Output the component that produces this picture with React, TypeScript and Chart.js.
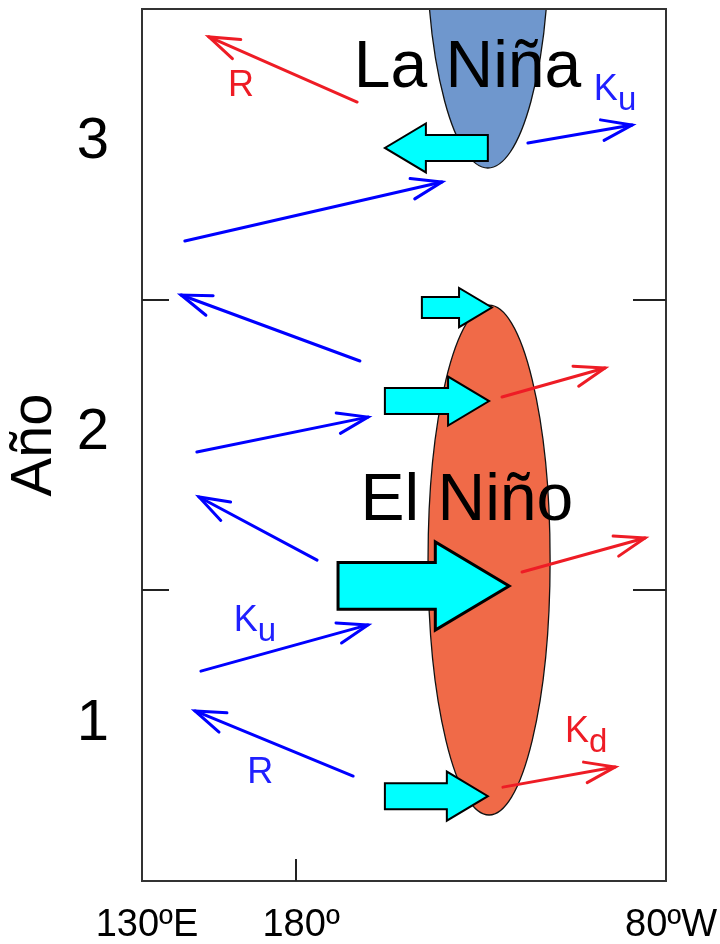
import React, { useEffect, useRef } from 'react';
import { Chart, registerables } from 'chart.js';

Chart.register(...registerables);

const FONT = '"Liberation Sans", Arial, Helvetica, sans-serif';

// ---------- axes ----------
const yLabelValues = [1, 2, 3];
const yTickMarkValues = [1.5, 2.5];
const xLabelValues = [130, 180, 300];
const xLabelTexts = ['130ºE', '180º', '80ºW'];
const xTickMarkValues = [180];

// ---------- thin wave arrows (tail -> tip), lon in degrees east, time in years ----------
const waveFromLon = [199.8, 255.2, 143.9, 200.7, 147.8, 186.8, 149.1, 198.5, 246.8, 253.3, 247.1];
const waveFromYear = [3.18, 3.039, 2.702, 2.289, 1.976, 1.604, 1.222, 0.861, 2.165, 1.563, 0.823];
const waveToLon = [151.7, 289.0, 227.3, 142.7, 203.3, 148.5, 203.3, 147.2, 280.2, 293.2, 283.5];
const waveToYear = [3.404, 3.101, 2.905, 2.516, 2.096, 1.821, 1.381, 1.085, 2.265, 1.68, 0.892];
const waveIsRed = [true, false, false, false, false, false, false, false, true, true, true];

// ---------- block (wind stress) arrows ----------
const windFromLon = [242.2, 220.8, 208.8, 193.6, 208.8];
const windToLon = [208.8, 243.5, 242.6, 249.1, 242.2];
const windYear = [3.022, 2.473, 2.151, 1.515, 0.792];
const windStrength = [1, 0.8, 1, 1.8, 1];

// ---------- ENSO phases (ellipses) ----------
const phaseCenterLon = [242.2, 242.6];
const phaseCenterYear = [3.737, 1.604];
const phaseHalfLon = [19.8, 19.8];
const phaseHalfYear = [0.784, 0.877];

// ---------- text notes ----------
const noteText = ['La Niña', 'El Niño', 'R', 'K', 'K', 'K', 'R'];
const noteSub = ['', '', '', 'u', 'u', 'd', ''];
const noteLon = [235.6, 235.4, 162.1, 276.6, 159.8, 267.2, 168.4];
const noteYear = [3.232, 1.742, 3.201, 3.187, 1.36, 0.978, 0.837];

// ---------- styles ----------
const RED = '#ee1c25';
const BLUE = '#0000ff';
const phaseFill = ['#6f97cd', '#f06a48'];
const noteColor = ['#000', '#000', RED, '#2020ff', '#2020ff', RED, '#2020ff'];
const noteSize = [66, 66, 36, 36, 36, 36, 36];
const noteAlign: CanvasTextAlign[] = ['center', 'center', 'center', 'left', 'left', 'left', 'center'];

const diagramPlugin = {
  id: 'diagram',
  beforeDatasetsDraw(chart: any) {
    const { ctx, chartArea: ca, scales } = chart;
    const x = scales.x;
    const y = scales.y;
    ctx.save();
    ctx.beginPath();
    ctx.rect(ca.left, ca.top, ca.right - ca.left, ca.bottom - ca.top);
    ctx.clip();
    // ellipses
    phaseCenterLon.forEach((lon, i) => {
      const cx = x.getPixelForValue(lon);
      const cy = y.getPixelForValue(phaseCenterYear[i]);
      const rx = Math.abs(x.getPixelForValue(lon + phaseHalfLon[i]) - cx);
      const ry = Math.abs(y.getPixelForValue(phaseCenterYear[i] + phaseHalfYear[i]) - cy);
      ctx.beginPath();
      ctx.ellipse(cx, cy, rx, ry, 0, 0, Math.PI * 2);
      ctx.fillStyle = phaseFill[i];
      ctx.fill();
      ctx.lineWidth = 1.3;
      ctx.strokeStyle = '#111';
      ctx.stroke();
    });
    // block arrows
    windFromLon.forEach((lon, i) => {
      const s = windStrength[i];
      const shaft = 26 * s;
      const head = 49 * s;
      const headLen = 41 * s;
      const xt = x.getPixelForValue(lon);
      const xp = x.getPixelForValue(windToLon[i]);
      const yc = y.getPixelForValue(windYear[i]);
      const d = Math.sign(xp - xt);
      const xb = xp - d * headLen;
      ctx.beginPath();
      ctx.moveTo(xt, yc - shaft / 2);
      ctx.lineTo(xb, yc - shaft / 2);
      ctx.lineTo(xb, yc - head / 2);
      ctx.lineTo(xp, yc);
      ctx.lineTo(xb, yc + head / 2);
      ctx.lineTo(xb, yc + shaft / 2);
      ctx.lineTo(xt, yc + shaft / 2);
      ctx.closePath();
      ctx.fillStyle = '#00ffff';
      ctx.fill();
      ctx.lineJoin = 'miter';
      ctx.lineWidth = s > 1.5 ? 3 : 2;
      ctx.strokeStyle = '#000';
      ctx.stroke();
    });
    ctx.restore();
  },
  afterDatasetsDraw(chart: any) {
    const { ctx, scales } = chart;
    const x = scales.x;
    const y = scales.y;
    ctx.save();
    // arrow heads
    chart.data.datasets.forEach((ds: any, i: number) => {
      const pts = chart.getDatasetMeta(i).data;
      if (pts.length < 2) return;
      const p0 = pts[0];
      const p1 = pts[1];
      const ang = Math.atan2(p0.y - p1.y, p0.x - p1.x);
      const len = 32;
      const spread = (19 * Math.PI) / 180;
      ctx.strokeStyle = ds.borderColor;
      ctx.lineWidth = 3;
      ctx.lineCap = 'round';
      ctx.beginPath();
      ctx.moveTo(p1.x + len * Math.cos(ang + spread), p1.y + len * Math.sin(ang + spread));
      ctx.lineTo(p1.x, p1.y);
      ctx.lineTo(p1.x + len * Math.cos(ang - spread), p1.y + len * Math.sin(ang - spread));
      ctx.stroke();
    });
    // notes
    noteText.forEach((t, i) => {
      const px = x.getPixelForValue(noteLon[i]);
      const py = y.getPixelForValue(noteYear[i]);
      ctx.fillStyle = noteColor[i];
      ctx.textBaseline = 'alphabetic';
      ctx.textAlign = noteAlign[i];
      ctx.font = `${noteSize[i]}px ${FONT}`;
      ctx.fillText(t, px, py);
      if (noteSub[i]) {
        const w = ctx.measureText(t).width;
        ctx.textAlign = 'left';
        ctx.font = `${noteSize[i] - 3}px ${FONT}`;
        ctx.fillText(noteSub[i], px + w, py + 10);
      }
    });
    ctx.restore();
  },
  afterDraw(chart: any) {
    const { ctx, chartArea: ca, scales } = chart;
    const x = scales.x;
    const y = scales.y;
    ctx.save();
    ctx.strokeStyle = '#333';
    ctx.lineWidth = 2;
    ctx.strokeRect(ca.left, ca.top, ca.right - ca.left, ca.bottom - ca.top);
    ctx.strokeStyle = '#222';
    ctx.lineWidth = 2;
    ctx.beginPath();
    yTickMarkValues.forEach((v) => {
      const py = Math.round(y.getPixelForValue(v));
      ctx.moveTo(ca.left, py);
      ctx.lineTo(ca.left + 27, py);
      ctx.moveTo(ca.right, py);
      ctx.lineTo(ca.right - 33, py);
    });
    xTickMarkValues.forEach((v) => {
      const px = Math.round(x.getPixelForValue(v));
      ctx.moveTo(px, ca.bottom);
      ctx.lineTo(px, ca.bottom - 22);
    });
    ctx.stroke();
    ctx.restore();
  },
};

export default function App() {
  const ref = useRef<HTMLCanvasElement>(null);
  useEffect(() => {
    const canvas = ref.current;
    if (!canvas) return;
    const datasets = waveFromLon.map((lon, i) => ({
      data: [
        { x: lon, y: waveFromYear[i] },
        { x: waveToLon[i], y: waveToYear[i] },
      ],
      showLine: true,
      borderColor: waveIsRed[i] ? RED : BLUE,
      borderWidth: 3,
      borderCapStyle: 'round',
      pointRadius: 0,
      fill: false,
    }));
    const chart = new Chart(canvas, {
      type: 'scatter',
      data: { datasets: datasets as any },
      options: {
        responsive: false,
        animation: false,
        devicePixelRatio: 1,
        layout: { padding: { left: 0, top: 9, right: 54, bottom: 0 } },
        plugins: { legend: { display: false }, tooltip: { enabled: false } },
        scales: {
          x: {
            type: 'linear',
            min: 130,
            max: 300,
            afterBuildTicks: (s: any) => {
              s.ticks = xLabelValues.map((v) => ({ value: v }));
            },
            afterFit: (s: any) => {
              s.height = 63;
              s.paddingLeft = 0;
              s.paddingRight = 0;
              s.paddingTop = 0;
              s.paddingBottom = 0;
            },
            grid: { display: false, drawTicks: false },
            border: { display: false },
            ticks: {
              callback: (v: any) => {
                const k = xLabelValues.indexOf(Number(v));
                return k >= 0 ? xLabelTexts[k] : '';
              },
              font: { size: 38, family: FONT, lineHeight: 1 },
              color: '#000',
              padding: 26,
              labelOffset: 5,
              maxRotation: 0,
              minRotation: 0,
              autoSkip: false,
            },
          },
          y: {
            type: 'linear',
            min: 0.5,
            max: 3.5,
            afterBuildTicks: (s: any) => {
              s.ticks = yLabelValues.map((v) => ({ value: v }));
            },
            afterFit: (s: any) => {
              s.width = 142;
              s.paddingLeft = 0;
              s.paddingRight = 0;
              s.paddingTop = 0;
              s.paddingBottom = 0;
            },
            grid: { display: false, drawTicks: false },
            border: { display: false },
            ticks: {
              callback: (v: any) => String(v),
              font: { size: 58, family: FONT, lineHeight: 1 },
              color: '#000',
              padding: 33,
              labelOffset: -12,
              autoSkip: false,
            },
            title: {
              display: true,
              text: 'Año',
              font: { size: 58, family: FONT, lineHeight: 1 },
              color: '#000',
              padding: { top: 6, bottom: 0 },
            },
          },
        },
      },
      plugins: [diagramPlugin],
    });
    return () => chart.destroy();
  }, []);
  return (
    <div style={{ position: 'absolute', left: 0, top: 0, width: 720, height: 944, background: '#fff' }}>
      <canvas ref={ref} width={720} height={944} style={{ display: 'block', width: 720, height: 944 }} />
    </div>
  );
}
